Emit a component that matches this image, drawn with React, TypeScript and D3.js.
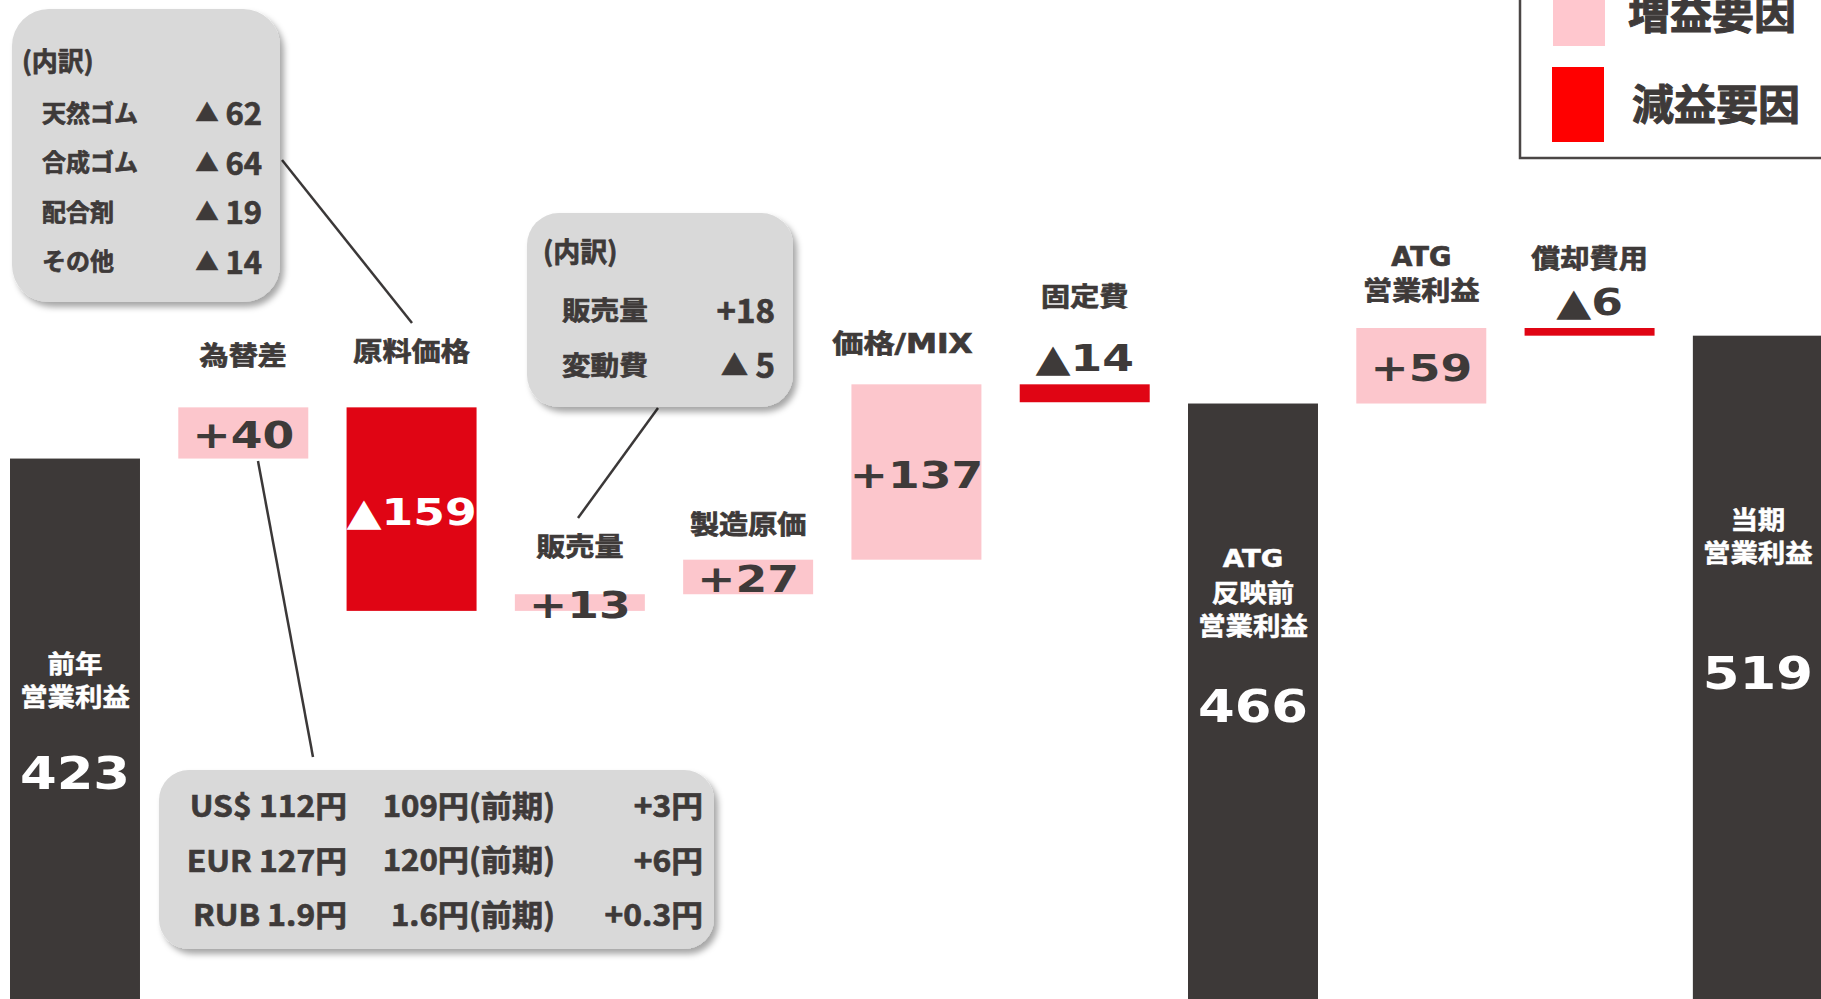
import React from "react";
import * as d3 from "d3";

// ---------- data ----------
const categories = [
  "前年営業利益", "為替差", "原料価格", "販売量", "製造原価", "価格/MIX",
  "固定費", "ATG反映前営業利益", "ATG営業利益", "償却費用", "当期営業利益",
];
const categoryLines = [
  ["前年", "営業利益"], ["為替差"], ["原料価格"], ["販売量"], ["製造原価"], ["価格/MIX"],
  ["固定費"], ["ATG", "反映前", "営業利益"], ["ATG", "営業利益"], ["償却費用"], ["当期", "営業利益"],
];
const kinds = ["total", "delta", "delta", "delta", "delta", "delta", "delta", "total", "delta", "delta", "total"];
const values = [423, 40, -159, 13, 27, 137, -14, 466, 59, -6, 519];
const valueLabels = ["423", "+40", "▲159", "+13", "+27", "+137", "▲14", "466", "+59", "▲6", "519"];

const rawMaterialItems = ["天然ゴム", "合成ゴム", "配合剤", "その他"];
const rawMaterialValues = ["▲ 62", "▲ 64", "▲ 19", "▲ 14"];
const volumeItems = ["販売量", "変動費"];
const volumeValues = ["+18", "▲ 5"];
const fxCurrent = ["US$ 112円", "EUR 127円", "RUB 1.9円"];
const fxPrior = ["109円(前期)", "120円(前期)", "1.6円(前期)"];
const fxDiff = ["+3円", "+6円", "+0.3円"];
const legendLabels = ["増益要因", "減益要因"];

// ---------- layout / style ----------
const W = 1821, H = 999;
const DARK = "#3d3938";
const PINK = "#fcc6cc";
const RED = "#e00514";
const TEXT = "#3e3a39";
const JP = "'Noto Sans CJK JP', 'Noto Sans', sans-serif";
const LBL = "'DejaVu Sans', 'Noto Sans CJK JP', sans-serif";
const NUM = "'DejaVu Sans', Verdana, sans-serif";
const NUM_SIZE = 38, TOTAL_SIZE = 44, NUM_SX = 1.2, JP_SX = 1.12;

// category label gap above bar top (or above above-bar value label)
const labelGap = [0, 51, 55, 47, 35, 40, 87, 0, 37, 69, 0];
// in-bar text offsets for totals (first label line centre, number baseline), from bar top
const totalText: Record<number, [number, number]> = { 0: [204, 330], 7: [155, 318], 10: [182, 353] };

function T(props: any) {
  const { x, y, s = 1, anchor = "middle", size, family = JP, fill = TEXT, baseline, bold = 0.7, children } = props;
  return (
    <text
      transform={`translate(${x},${y}) scale(${s},1)`}
      textAnchor={anchor}
      fontSize={size}
      fontFamily={family}
      fontWeight={700}
      fill={fill}
      stroke={bold ? fill : "none"}
      strokeWidth={bold}
      dominantBaseline={baseline}
    >
      {children}
    </text>
  );
}

// splits a leading ▲ into a smaller tspan
function Tri({ label, triSize }: { label: string; triSize: number }) {
  if (label.startsWith("▲")) {
    return (<><tspan fontSize={triSize}>▲</tspan><tspan>{label.slice(1)}</tspan></>);
  }
  return <>{label}</>;
}

export default function App() {
  const x = d3.scaleBand<string>().domain(categories).range([-9.15, 1842]).paddingInner(0.2276).paddingOuter(0.1138);
  const y = d3.scaleLinear().domain([0, 600]).range([1000, 232]);

  let running = 0;
  const bars = categories.map((c, i) => {
    let v0: number, v1: number;
    if (kinds[i] === "total") { v0 = 0; v1 = values[i]; running = v1; }
    else { v0 = running; v1 = running + values[i]; running = v1; }
    const top = y(Math.max(v0, v1));
    const bottom = y(Math.min(v0, v1));
    const fill = kinds[i] === "total" ? DARK : values[i] >= 0 ? PINK : RED;
    return { c, i, x0: x(c)!, w: x.bandwidth(), cx: x(c)! + x.bandwidth() / 2, top, bottom, fill };
  });

  return (
    <svg width={W} height={H} style={{ position: "fixed", left: 0, top: 0, background: "#fff" }}>
      <defs>
        <filter id="sh" x="-10%" y="-10%" width="130%" height="130%">
          <feDropShadow dx="4" dy="5" stdDeviation="3" floodColor="#000" floodOpacity="0.35" />
        </filter>
        <clipPath id="clip"><rect x={0} y={0} width={W} height={H} /></clipPath>
      </defs>
      <rect x={0} y={0} width={W} height={H} fill="#fff" />
      <g clipPath="url(#clip)">
        {/* bars */}
        {bars.map((b) => (
          <rect key={b.c} x={b.x0} y={b.top} width={b.w} height={Math.max(1, b.bottom - b.top)} fill={b.fill} />
        ))}

        {/* connector lines */}
        <g stroke="#3b3838" strokeWidth={2.5}>
          <line x1={282} y1={160} x2={412} y2={323} />
          <line x1={658} y1={408} x2={578} y2={518} />
          <line x1={258} y1={461} x2={313} y2={757} />
        </g>

        {/* value + category labels */}
        {bars.map((b) => {
          const i = b.i;
          if (kinds[i] === "total") {
            const [l0, nb] = totalText[i];
            return (
              <g key={"t" + i}>
                {categoryLines[i].map((ln, k) => (
                  <T key={k} x={b.cx} y={b.top + l0 + k * 33} size={24.5} s={JP_SX} fill="#fff" baseline="central"
                    family={ln === "ATG" ? LBL : JP} bold={0.5}>{ln}</T>
                ))}
                <T x={b.cx} y={b.top + nb} size={TOTAL_SIZE} s={NUM_SX} family={NUM} fill="#fff" bold={0}>{valueLabels[i]}</T>
              </g>
            );
          }
          const small = b.bottom - b.top < 30 && values[i] < 0;
          const numY = small ? b.top - 13 : (b.top + b.bottom) / 2 + 15.5;
          const numFill = values[i] < 0 && !small ? "#fff" : TEXT;
          const lines = categoryLines[i];
          const lastY = b.top - labelGap[i];
          return (
            <g key={"d" + i}>
              <T x={b.cx} y={numY} size={NUM_SIZE} s={NUM_SX} family={NUM} fill={numFill} bold={0}>{valueLabels[i]}</T>
              {lines.map((ln, k) => {
                const mix = ln.includes("MIX");
                return (
                  <T key={k} x={b.cx - (mix ? 14 : 0)} y={lastY - (lines.length - 1 - k) * 34} size={26}
                    s={mix ? 1.2 : ln === "ATG" ? 1.05 : JP_SX} family={LBL} baseline="central">{ln}</T>
                );
              })}
            </g>
          );
        })}

        {/* callout: raw material breakdown */}
        <rect x={12} y={9} width={268} height={293} rx={37} fill="#d9d9d9" filter="url(#sh)" />
        <T x={22} y={59} size={26} anchor="start" baseline="central">(内訳)</T>
        {rawMaterialItems.map((it, k) => (
          <g key={it}>
            <T x={42} y={111 + k * 49.5} size={24} anchor="start" baseline="central">{it}</T>
            <T x={262} y={111 + k * 49.5} size={31} anchor="end" baseline="central">
              <Tri label={rawMaterialValues[k]} triSize={23} />
            </T>
          </g>
        ))}

        {/* callout: volume breakdown */}
        <rect x={527} y={213} width={266} height={194} rx={32} fill="#d9d9d9" filter="url(#sh)" />
        <T x={543} y={250} size={27} anchor="start" baseline="central">(内訳)</T>
        {volumeItems.map((it, k) => (
          <g key={it}>
            <T x={562} y={309 + k * 55} size={26} s={1.1} anchor="start" baseline="central">{it}</T>
            <T x={775} y={309 + k * 55} size={33} anchor="end" baseline="central">
              <Tri label={volumeValues[k]} triSize={27} />
            </T>
          </g>
        ))}

        {/* callout: FX */}
        <rect x={159} y={770} width={555} height={179} rx={30} fill="#d9d9d9" filter="url(#sh)" />
        {fxCurrent.map((c, k) => (
          <g key={c}>
            <T x={347} y={804 + k * 54.5} size={30} s={1.06} anchor="end" baseline="central">{c}</T>
            <T x={555} y={804 + k * 54.5} size={30} s={1.04} anchor="end" baseline="central">{fxPrior[k]}</T>
            <T x={703} y={804 + k * 54.5} size={30} s={1.06} anchor="end" baseline="central">{fxDiff[k]}</T>
          </g>
        ))}

        {/* legend */}
        <rect x={1520} y={-20} width={340} height={178} fill="#fff" stroke="#4a4645" strokeWidth={2.5} />
        <rect x={1553} y={-29} width={52} height={75} fill="#ffc7ce" />
        <rect x={1552} y={67} width={52} height={75} fill="#ff0000" />
        <T x={1628} y={10} size={42} anchor="start" baseline="central" bold={1}>{legendLabels[0]}</T>
        <T x={1632} y={101} size={42} anchor="start" baseline="central" bold={1}>{legendLabels[1]}</T>
      </g>
    </svg>
  );
}
